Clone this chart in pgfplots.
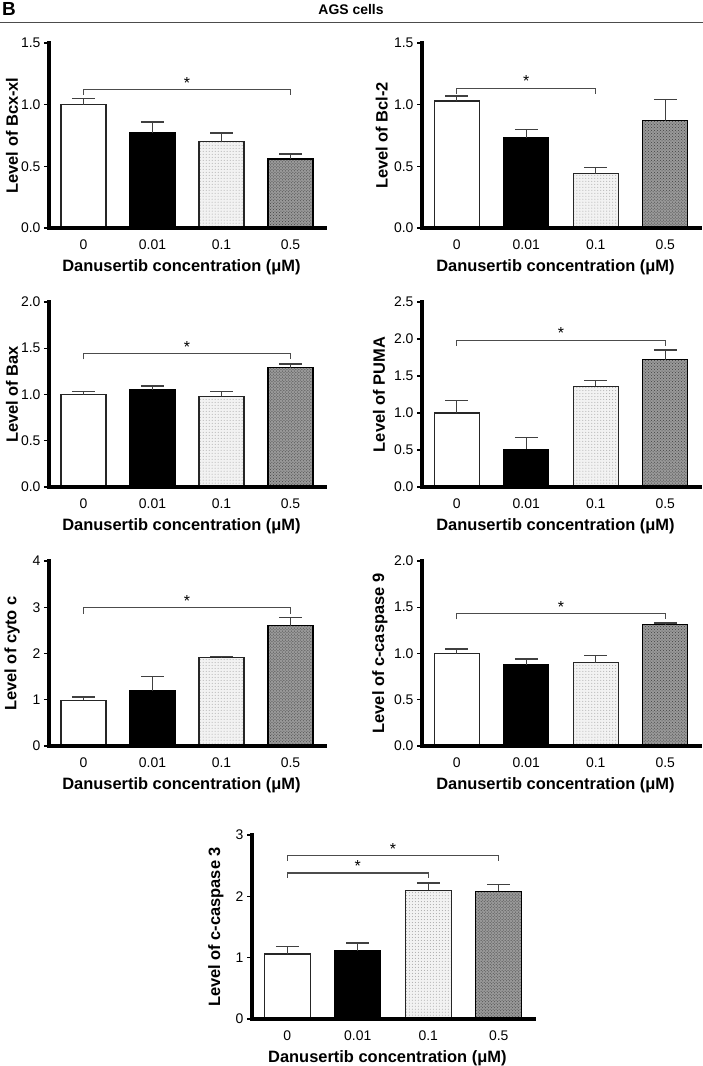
\documentclass[border=0pt]{standalone}
\usepackage{fontspec}
\setmainfont{Liberation Sans}
\usepackage{pgfplots}
\pgfplotsset{compat=1.18}
\usetikzlibrary{patterns}
\definecolor{errc}{gray}{0.25}
\definecolor{brkc}{gray}{0.3}
\pgfplotsset{
  panel/.style={
    scale only axis, width=276bp, height=185bp,
    xmin=-0.5, xmax=3.5, ymin=0, clip=false,
    axis x line=bottom, axis y line=left,
    axis line style={line width=3.2bp, black, -},
    xtick={0,1,2,3}, xticklabels={0,0.01,0.1,0.5},
    x tick style={draw=none},
    y tick style={line width=1.3bp, black},
    tick align=outside, major tick length=5bp,
    ticklabel style={font=\fontsize{14}{16}\selectfont},
    xticklabel style={yshift=-3bp},
    /pgf/number format/assume math mode=true,
    xlabel={Danusertib concentration (μM)},
    xlabel style={font=\bfseries\fontsize{16.5}{18}\selectfont, at={(axis description cs:0.48,0)}, anchor=center, yshift=-39bp},
    ylabel style={font=\bfseries\fontsize{16.5}{18}\selectfont, anchor=center},
    error bars/y dir=plus, error bars/y explicit,
    error bars/error bar style={draw=errc, line width=1.4bp, fill=none},
    error bars/error mark options={rotate=90, mark size=11.5bp, line width=1.4bp, draw=errc},
    extra description/.code={\draw[line width=3.2bp, black, line cap=rect] (rel axis cs:0,1) -- (rel axis cs:0,0) -- (rel axis cs:1,0);},
  },
  onedec/.style={yticklabel style={/pgf/number format/.cd, fixed, fixed zerofill, precision=1}},
  b0/.style={ybar, bar width=0.65, fill=white, draw=black!85, line width=1.3bp},
  b1/.style={ybar, bar width=0.65, fill=black, draw=black, line width=1.3bp},
  b2/.style={ybar, bar width=0.65, fill=black!5, draw=black!85, line width=1.3bp, postaction={pattern=dots, pattern color=black!35}},
  b3/.style={ybar, bar width=0.65, fill=black!40, draw=black, line width=1.3bp, postaction={pattern=crosshatch dots, pattern color=black!75}},
}
\tikzset{brk/.style={draw=brkc, line width=1.1bp}, star/.style={font=\fontsize{16}{17}\selectfont, anchor=south, inner sep=1.5bp}}
\begin{document}
\begin{tikzpicture}
\useasboundingbox (0,0) rectangle (703bp,-1066bp);
% header
\node[anchor=north west, inner sep=0pt, font=\bfseries\fontsize{19}{20}\selectfont] at (2bp,-2bp) {B};
\node[anchor=center, inner sep=0pt, font=\bfseries\fontsize{14}{16}\selectfont] at (351bp,-10bp) {AGS cells};
\draw[black!70, line width=1bp] (0,-22.5bp) -- (703bp,-22.5bp);

% P1 Bcx-xl
\begin{axis}[panel, onedec, at={(49bp,-228bp)}, anchor=south west, ymax=1.5, ytick={0,0.5,1,1.5},
  ylabel={Level of Bcx-xl}, ylabel style={at={(axis description cs:-0.134,0.5)}}]
\addplot[b0] coordinates {(0,1.00) +- (0,0.05)};
\addplot[b1] coordinates {(1,0.77) +- (0,0.09)};
\addplot[b2] coordinates {(2,0.70) +- (0,0.07)};
\addplot[b3] coordinates {(3,0.56) +- (0,0.04)};
\draw[brk] (axis cs:0,1.08) -- (axis cs:0,1.12) -- (axis cs:3,1.12) -- (axis cs:3,1.08);
\node[star] at (axis cs:1.5,1.12) {*};
\end{axis}

% P2 Bcl-2
\begin{axis}[panel, onedec, at={(422bp,-228bp)}, anchor=south west, width=278bp, ymax=1.5, ytick={0,0.5,1,1.5},
  ylabel={Level of Bcl-2}, ylabel style={at={(axis description cs:-0.145,0.5)}}]
\addplot[b0] coordinates {(0,1.03) +- (0,0.04)};
\addplot[b1] coordinates {(1,0.73) +- (0,0.07)};
\addplot[b2] coordinates {(2,0.44) +- (0,0.05)};
\addplot[b3] coordinates {(3,0.87) +- (0,0.17)};
\draw[brk] (axis cs:0,1.09) -- (axis cs:0,1.13) -- (axis cs:2,1.13) -- (axis cs:2,1.09);
\node[star] at (axis cs:1,1.13) {*};
\end{axis}

% P3 Bax
\begin{axis}[panel, onedec, at={(49bp,-487bp)}, anchor=south west, ymax=2, ytick={0,0.5,1,1.5,2},
  ylabel={Level of Bax}, ylabel style={at={(axis description cs:-0.134,0.5)}}]
\addplot[b0] coordinates {(0,1.00) +- (0,0.03)};
\addplot[b1] coordinates {(1,1.05) +- (0,0.04)};
\addplot[b2] coordinates {(2,0.98) +- (0,0.05)};
\addplot[b3] coordinates {(3,1.29) +- (0,0.04)};
\draw[brk] (axis cs:0,1.38) -- (axis cs:0,1.44) -- (axis cs:3,1.44) -- (axis cs:3,1.38);
\node[star] at (axis cs:1.5,1.44) {*};
\end{axis}

% P4 PUMA
\begin{axis}[panel, onedec, at={(422bp,-487bp)}, anchor=south west, width=278bp, ymax=2.5, ytick={0,0.5,1,1.5,2,2.5},
  ylabel={Level of PUMA}, ylabel style={at={(axis description cs:-0.155,0.5)}}]
\addplot[b0] coordinates {(0,1.00) +- (0,0.17)};
\addplot[b1] coordinates {(1,0.51) +- (0,0.16)};
\addplot[b2] coordinates {(2,1.36) +- (0,0.08)};
\addplot[b3] coordinates {(3,1.72) +- (0,0.13)};
\draw[brk] (axis cs:0,1.91) -- (axis cs:0,1.98) -- (axis cs:3,1.98) -- (axis cs:3,1.91);
\node[star] at (axis cs:1.5,1.98) {*};
\end{axis}

% P5 cyto c
\begin{axis}[panel, at={(49bp,-746bp)}, anchor=south west, ymax=4, ytick={0,1,2,3,4},
  ylabel={Level of cyto c}, ylabel style={at={(axis description cs:-0.134,0.5)}}]
\addplot[b0] coordinates {(0,0.99) +- (0,0.07)};
\addplot[b1] coordinates {(1,1.19) +- (0,0.31)};
\addplot[b2] coordinates {(2,1.91) +- (0,0.02)};
\addplot[b3] coordinates {(3,2.60) +- (0,0.18)};
\draw[brk] (axis cs:0,2.86) -- (axis cs:0,2.99) -- (axis cs:3,2.99) -- (axis cs:3,2.86);
\node[star] at (axis cs:1.5,2.99) {*};
\end{axis}

% P6 c-caspase 9
\begin{axis}[panel, onedec, at={(422bp,-746bp)}, anchor=south west, width=278bp, ymax=2, ytick={0,0.5,1,1.5,2},
  ylabel={Level of c-caspase 9}, ylabel style={at={(axis description cs:-0.152,0.5)}}]
\addplot[b0] coordinates {(0,1.00) +- (0,0.05)};
\addplot[b1] coordinates {(1,0.88) +- (0,0.06)};
\addplot[b2] coordinates {(2,0.90) +- (0,0.08)};
\addplot[b3] coordinates {(3,1.31) +- (0,0.02)};
\draw[brk] (axis cs:0,1.37) -- (axis cs:0,1.43) -- (axis cs:3,1.43) -- (axis cs:3,1.37);
\node[star] at (axis cs:1.5,1.43) {*};
\end{axis}

% P7 c-caspase 3
\begin{axis}[panel, at={(252bp,-1019bp)}, anchor=south west, width=282bp, height=184bp, ymax=3, ytick={0,1,2,3},
  ylabel={Level of c-caspase 3}, ylabel style={at={(axis description cs:-0.128,0.5)}}]
\addplot[b0] coordinates {(0,1.06) +- (0,0.12)};
\addplot[b1] coordinates {(1,1.11) +- (0,0.13)};
\addplot[b2] coordinates {(2,2.10) +- (0,0.12)};
\addplot[b3] coordinates {(3,2.08) +- (0,0.11)};
\draw[brk] (axis cs:0,2.30) -- (axis cs:0,2.38) -- (axis cs:2,2.38) -- (axis cs:2,2.30);
\node[star] at (axis cs:1,2.38) {*};
\draw[brk] (axis cs:0,2.58) -- (axis cs:0,2.66) -- (axis cs:3,2.66) -- (axis cs:3,2.58);
\node[star] at (axis cs:1.5,2.66) {*};
\end{axis}
\end{tikzpicture}
\end{document}
